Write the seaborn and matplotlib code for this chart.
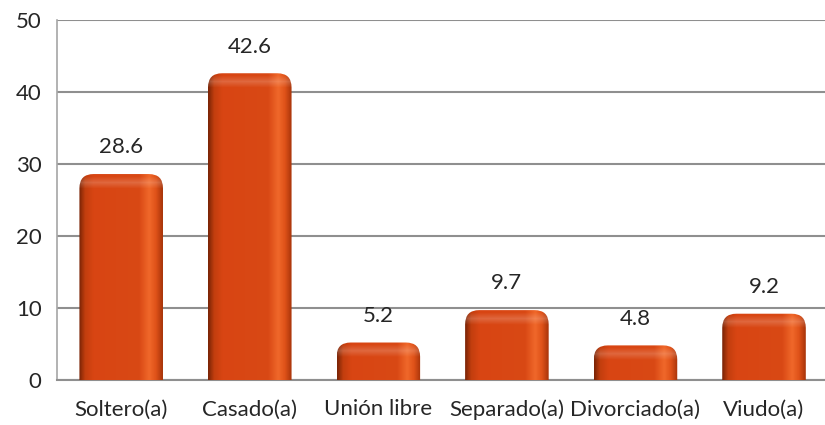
import numpy as np
import pandas as pd
import seaborn as sns
import matplotlib.pyplot as plt
from matplotlib.patches import FancyBboxPatch
from matplotlib.colors import LinearSegmentedColormap

categories = ['Soltero(a)', 'Casado(a)', 'Unión libre', 'Separado(a)', 'Divorciado(a)', 'Viudo(a)']
values = [28.6, 42.6, 5.2, 9.7, 4.8, 9.2]
yticks = [0, 10, 20, 30, 40, 50]

df = pd.DataFrame({'estado': categories, 'pct': values})

sns.set_style('white')
plt.rcParams['font.family'] = ['Lato', 'DejaVu Sans']

fig = plt.figure(figsize=(8.25, 4.25), dpi=100)
ax = fig.add_axes([0.069, 0.106, 0.935, 0.847])

sns.barplot(data=df, x='estado', y='pct', color='#d84513', width=0.65, ax=ax, zorder=3)

ax.set_xlabel('')
ax.set_ylabel('')
ax.set_yticks(yticks)

# grey gridlines / axes
grid_col = '#8f8f8f'
ax.yaxis.grid(True, color=grid_col, lw=1.5, zorder=0)
ax.set_axisbelow(True)
for side in ['top', 'right']:
    ax.spines[side].set_visible(False)
ax.spines['left'].set_color('#a6a6a6')
ax.spines['left'].set_linewidth(1.2)
ax.spines['bottom'].set_color(grid_col)
ax.spines['bottom'].set_linewidth(1.5)

ax.tick_params(axis='y', length=8, width=1.2, color='#a6a6a6', labelsize=16, pad=3)
ax.tick_params(axis='x', which='major', length=0, labelsize=16, pad=14)
ax.set_xticks(np.arange(-0.5, 6.0, 1.0), minor=True)
ax.tick_params(axis='x', which='minor', length=6, width=1.2, color='#a6a6a6')

# bar shading: horizontal gradient, rounded tops
cmap = LinearSegmentedColormap.from_list('bar', [
    (0.0, '#7a2406'), (0.07, '#c23e0e'), (0.17, '#d84513'),
    (0.72, '#d94915'), (0.84, '#f0682a'), (0.92, '#df5219'), (1.0, '#a8340a')])
px_per_x = 128.5
px_per_y = 7.2
aspect = px_per_x / px_per_y

for bar in list(ax.patches):
    x0 = bar.get_x()
    w = bar.get_width()
    h = bar.get_height()
    bar.set_visible(False)
    patch = FancyBboxPatch((x0, -3), w, h + 3,
                           boxstyle='round,pad=0,rounding_size=0.11',
                           mutation_aspect=aspect, fc='none', ec='none', zorder=3)
    ax.add_patch(patch)
    hpx = max(int(h * px_per_y), 2)
    grad = cmap(np.linspace(0, 1, 200))[:, :3]
    img = np.repeat(grad[None, :, :], hpx, axis=0)
    rows = np.arange(hpx)
    top_boost = np.clip(1 - np.abs(rows - 8) / 6.0, 0, 1) * 0.18
    img = np.clip(img + top_boost[:, None, None] * (1 - img), 0, 1)
    im = ax.imshow(img, extent=(x0, x0 + w, 0, h), origin='upper',
                   aspect='auto', zorder=3, interpolation='bilinear')
    im.set_clip_path(patch)
    ax.annotate(f'{h:.1f}', (x0 + w / 2, h), xytext=(0, 12),
                textcoords='offset points', ha='center', va='bottom',
                fontsize=16, zorder=4)

ax.set_xlim(-0.5, 5.5)
ax.set_ylim(0, 50)

fig.savefig('out.png', dpi=100)
